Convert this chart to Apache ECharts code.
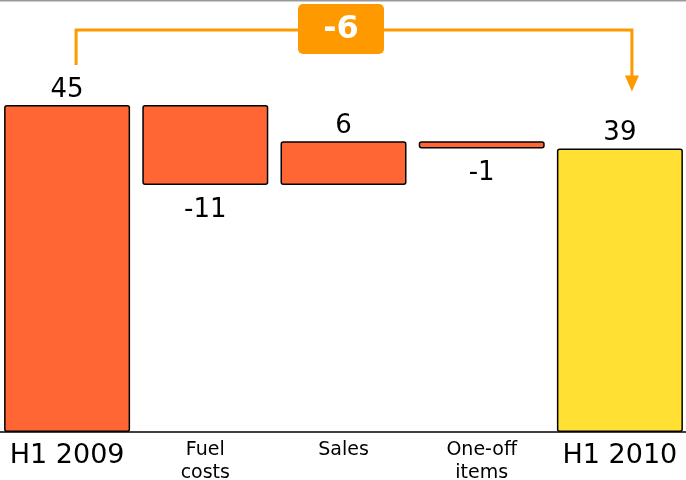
<!DOCTYPE html>
<html><head><meta charset="utf-8">
<script src="https://cdn.jsdelivr.net/npm/echarts@6/dist/echarts.min.js"></script>
<style>html,body{margin:0;padding:0;background:#fff}#c{width:686px;height:480px}</style>
</head><body><div id="c"></div>
<script>
const categories = ['H1 2009', 'Fuel\ncosts', 'Sales', 'One-off\nitems', 'H1 2010'];
const deltas = [45, -11, 6, -1, 39];
const isTotal = [true, false, false, false, true];
const barColors = ['#FF6633', '#FF6633', '#FF6633', '#FF6633', '#FFE033'];

// build waterfall base / height
const base = [], height = [];
let run = 0;
deltas.forEach((d, i) => {
  if (isTotal[i]) { base.push(0); height.push(d); run = d; }
  else if (d >= 0) { base.push(run); height.push(d); run += d; }
  else { base.push(run + d); height.push(-d); run += d; }
});
const change = deltas[deltas.length - 1] - deltas[0];

const chart = echarts.init(document.getElementById('c'));
chart.setOption({
  animation: false,
  grid: { left: -2, width: 691, top: 105, bottom: 48, outerBoundsMode: 'none', containLabel: false },
  xAxis: {
    type: 'category', data: categories,
    axisLine: { lineStyle: { color: '#000', width: 1.5 } },
    axisTick: { show: false },
    axisLabel: {
      interval: 0, margin: 7, color: '#000', fontFamily: 'DejaVu Sans',
      formatter: (v, i) => isTotal[i] ? '{big|' + v + '}' : v.split('\n').map(s => '{small|' + s + '}').join('\n'),
      rich: {
        big: { fontSize: 27, lineHeight: 34, fontFamily: 'DejaVu Sans', color: '#000' },
        small: { fontSize: 19, lineHeight: 23, fontFamily: 'DejaVu Sans', color: '#000' }
      }
    }
  },
  yAxis: { type: 'value', min: 0, max: 45, show: false, splitLine: { show: false } },
  series: [
    { type: 'bar', stack: 'w', data: base, itemStyle: { color: 'transparent' }, silent: true },
    {
      type: 'bar', stack: 'w', barWidth: 126,
      data: height.map((h, i) => ({
        value: h,
        itemStyle: { color: barColors[i], borderColor: '#000', borderWidth: 1.5, borderRadius: 2 },
        label: {
          show: true, position: deltas[i] < 0 ? 'bottom' : 'top', distance: deltas[i] < 0 ? 12 : 2,
          formatter: String(deltas[i]), fontSize: 26, color: '#000', fontFamily: 'DejaVu Sans'
        }
      }))
    }
  ]
});

function drawBracket() {
  const p0 = chart.convertToPixel({ seriesIndex: 1 }, [0, deltas[0]]);
  const p1 = chart.convertToPixel({ seriesIndex: 1 }, [deltas.length - 1, deltas[deltas.length - 1]]);
  const xl = p0[0] + 9, xr = p1[0] + 12;
  const yTop = p0[1] - 75, yl = p0[1] - 40, yTip = p1[1] - 57;
  const col = '#FF9900';
  const midX = (xl + xr) / 2 - 13;
  chart.setOption({
    graphic: [
      { type: 'line', shape: { x1: 0, y1: 0.5, x2: 686, y2: 0.5 }, style: { stroke: '#999', lineWidth: 2 } },
      { type: 'polyline', shape: { points: [[xl, yl], [xl, yTop], [xr, yTop], [xr, yTip - 14]] },
        style: { stroke: col, lineWidth: 3, fill: null } },
      { type: 'polygon', shape: { points: [[xr - 7, yTip - 16], [xr + 7, yTip - 16], [xr, yTip]] }, style: { fill: col } },
      { type: 'rect', shape: { x: midX - 43, y: 4, width: 86, height: 50, r: 5 }, style: { fill: col } },
      { type: 'text', x: midX, y: 30, style: { text: String(change), fill: '#fff', font: 'bold 32px "DejaVu Sans"', align: 'center', verticalAlign: 'middle' } }
    ]
  });
}
drawBracket();
</script></body></html>
